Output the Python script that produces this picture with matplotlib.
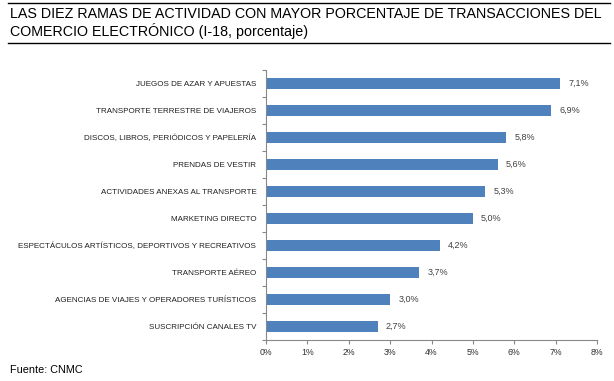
import matplotlib
matplotlib.use("Agg")
import matplotlib.pyplot as plt
import numpy as np

categorias = [
    "JUEGOS DE AZAR Y APUESTAS",
    "TRANSPORTE TERRESTRE DE VIAJEROS",
    "DISCOS, LIBROS, PERIÓDICOS Y PAPELERÍA",
    "PRENDAS DE VESTIR",
    "ACTIVIDADES ANEXAS AL TRANSPORTE",
    "MARKETING DIRECTO",
    "ESPECTÁCULOS ARTÍSTICOS, DEPORTIVOS Y RECREATIVOS",
    "TRANSPORTE AÉREO",
    "AGENCIAS DE VIAJES Y OPERADORES TURÍSTICOS",
    "SUSCRIPCIÓN CANALES TV",
]
valores = [7.1, 6.9, 5.8, 5.6, 5.3, 5.0, 4.2, 3.7, 3.0, 2.7]
xticks = [0, 1, 2, 3, 4, 5, 6, 7, 8]

plt.rcParams['font.family'] = ['Liberation Sans', 'DejaVu Sans']

W, H = 614, 381
fig = plt.figure(figsize=(W / 100, H / 100), dpi=100)
ax = fig.add_axes([266 / W, (H - 340) / H, (597 - 266) / W, 270 / H])

y = np.arange(len(categorias))
ax.barh(y, valores, height=0.42, color="#4F81BD")
for yi, v in zip(y, valores):
    ax.text(v + 0.2, yi, f"{v:.1f}%".replace(".", ","), va="center", ha="left",
            fontsize=6.5, color="#404040")

ax.set_ylim(len(categorias) - 0.5, -0.5)
ax.set_xlim(0, 8)
ax.set_yticks(y)
ax.set_yticklabels(categorias, fontsize=5.8, color="#202020")
ax.set_yticks(np.arange(-0.5, len(categorias)), minor=True)
ax.tick_params(axis="y", which="major", length=0, pad=7)
ax.tick_params(axis="y", which="minor", length=3, color="#888888", width=0.8)
ax.set_xticks(xticks)
ax.set_xticklabels([f"{t}%" for t in xticks], fontsize=6.3, color="#303030")
ax.tick_params(axis="x", length=3, color="#888888", width=0.8, pad=3)

for s in ["top", "right"]:
    ax.spines[s].set_visible(False)
for s in ["left", "bottom"]:
    ax.spines[s].set_color("#888888")
    ax.spines[s].set_linewidth(0.8)

# titulo
fig.add_artist(plt.Line2D([8 / W, 610 / W], [1 - 3 / H, 1 - 3 / H], color="black", lw=1))
fig.add_artist(plt.Line2D([8 / W, 610 / W], [1 - 43 / H, 1 - 43 / H], color="black", lw=1))
fig.text(10 / W, 1 - 14 / H, "LAS DIEZ RAMAS DE ACTIVIDAD CON MAYOR PORCENTAJE DE TRANSACCIONES DEL",
         fontsize=10.3, va="center", ha="left")
fig.text(10 / W, 1 - 31 / H, "COMERCIO ELECTRÓNICO (I-18, porcentaje)",
         fontsize=10.3, va="center", ha="left")
fig.text(10 / W, 1 - 370 / H, "Fuente: CNMC", fontsize=7.8, va="center", ha="left")

fig.savefig("out.png", dpi=100)
